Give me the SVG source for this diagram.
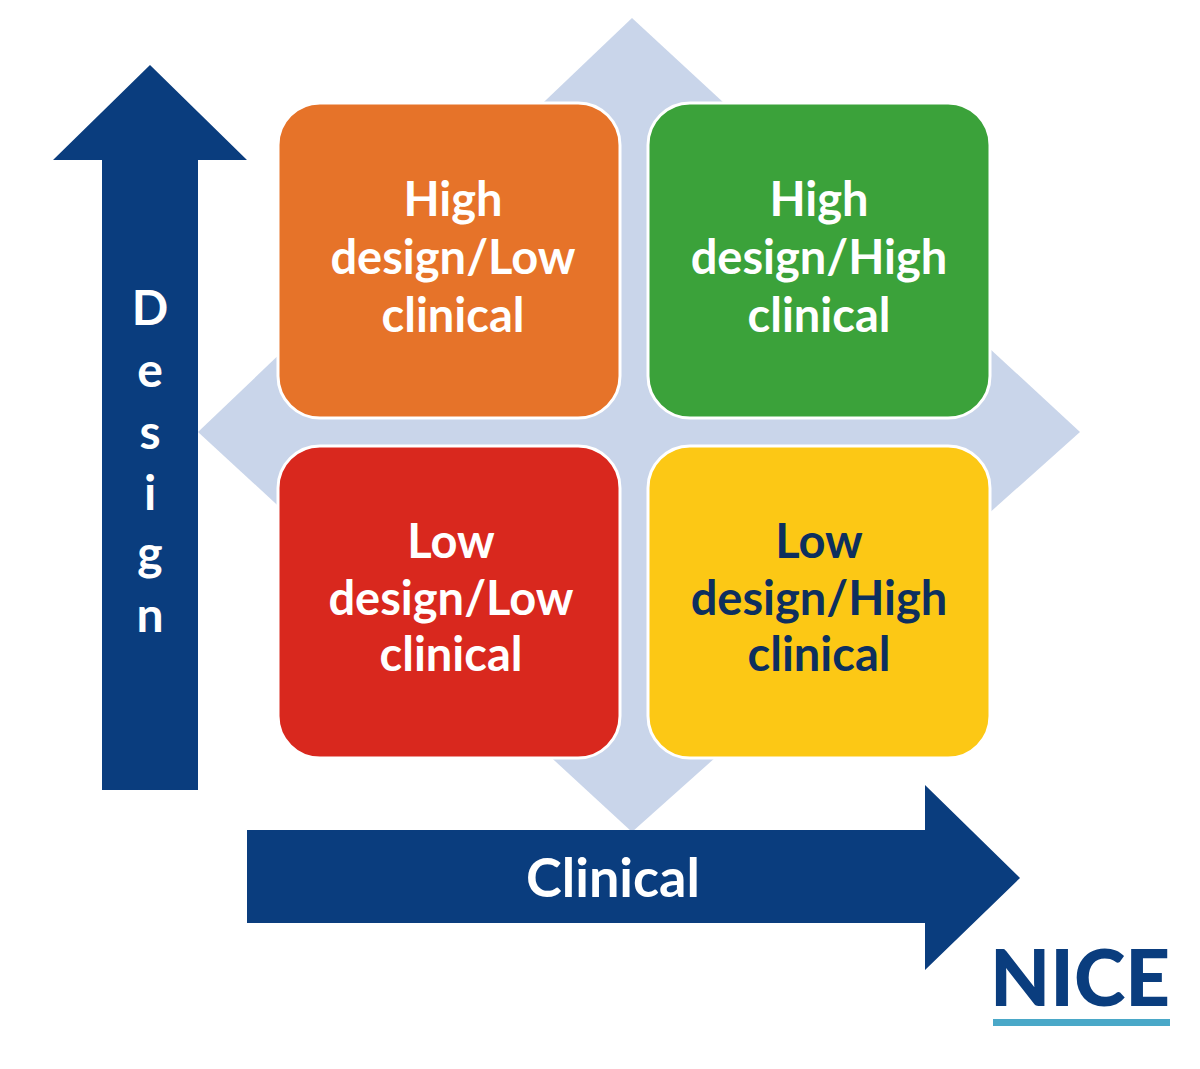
<svg xmlns="http://www.w3.org/2000/svg" width="1200" height="1069" viewBox="0 0 1200 1069">
<style>
.box{stroke:#ffffff;stroke-width:3}
.t{font-family:Lato,"Liberation Sans",sans-serif;font-weight:bold;font-size:47px;text-anchor:middle}
.w{fill:#ffffff}
.d{fill:#0d2f5e}
.ax{fill:#0a3d7e}
</style>
<rect width="1200" height="1069" fill="#ffffff"/>
<polygon points="632,18 1080,432 632,832 198,432" fill="#c9d5ea"/>
<g id="axes">
<g id="design-axis">
<polygon class="ax" points="102,790 198,790 198,160 247,160 150,65 53,160 102,160"/>
<g class="t w" style="font-size:48px">
<text x="150" y="325">D</text><text x="150" y="387">e</text><text x="150" y="449">s</text><text x="150" y="510">i</text><text x="150" y="570">g</text><text x="150" y="632">n</text>
</g>
</g>
<g id="clinical-axis">
<polygon class="ax" points="247,830 925,830 925,785 1020,878 925,970 925,923 247,923"/>
<text class="t w" x="613" y="897" style="font-size:54px">Clinical</text>
</g>
</g>
<g id="q-hl">
<rect class="box" x="278" y="103" width="342" height="315" rx="42" fill="#e67329"/>
<text class="t w" x="453" y="216">High</text><text class="t w" x="453" y="274">design/Low</text><text class="t w" x="453" y="332">clinical</text>
</g>
<g id="q-hh">
<rect class="box" x="648" y="103" width="342" height="315" rx="42" fill="#3ba23a"/>
<text class="t w" x="819" y="216">High</text><text class="t w" x="819" y="274">design/High</text><text class="t w" x="819" y="332">clinical</text>
</g>
<g id="q-ll">
<rect class="box" x="278" y="446" width="342" height="312" rx="42" fill="#d9281e"/>
<text class="t w" x="451" y="558">Low</text><text class="t w" x="451" y="615">design/Low</text><text class="t w" x="451" y="671">clinical</text>
</g>
<g id="q-lh">
<rect class="box" x="648" y="446" width="342" height="312" rx="42" fill="#fcc815"/>
<text class="t d" x="819" y="558">Low</text><text class="t d" x="819" y="615">design/High</text><text class="t d" x="819" y="671">clinical</text>
</g>
<g id="logo">
<text x="1080" y="1006" text-anchor="middle" style="font-family:Lato,'Liberation Sans',sans-serif;font-weight:900;font-size:78px" fill="#0a3d7e">NICE</text>
<rect x="993" y="1019" width="177" height="7" fill="#4aa8c8"/>
</g>
</svg>
